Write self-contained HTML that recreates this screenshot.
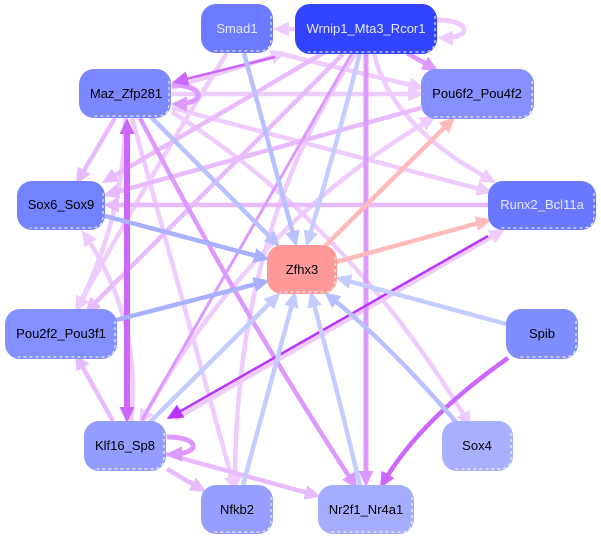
<!DOCTYPE html>
<html><head><meta charset="utf-8"><style>
html,body{margin:0;padding:0;background:#fff;width:601px;height:539px;overflow:hidden}
svg{display:block}
text{font-family:"Liberation Sans",sans-serif;font-size:13px;text-anchor:middle}
path{fill:none}
.b{stroke:#fff;stroke-width:1;stroke-dasharray:3 3;fill:none}
</style></head><body>
<svg width="601" height="539" viewBox="0 0 601 539" xmlns="http://www.w3.org/2000/svg">
<defs>
<marker id="a" markerUnits="userSpaceOnUse" markerWidth="18" markerHeight="17" refX="10" refY="8" orient="auto-start-reverse"><polygon points="0,0.5 16,8 0,15.5" fill="#eeccff"/></marker>
<marker id="b" markerUnits="userSpaceOnUse" markerWidth="18" markerHeight="17" refX="10" refY="8" orient="auto-start-reverse"><polygon points="0,0.5 16,8 0,15.5" fill="#e8bbff"/></marker>
<marker id="c" markerUnits="userSpaceOnUse" markerWidth="18" markerHeight="17" refX="10" refY="8" orient="auto-start-reverse"><polygon points="0,0.5 16,8 0,15.5" fill="#dd99ff"/></marker>
<marker id="d" markerUnits="userSpaceOnUse" markerWidth="18" markerHeight="17" refX="10" refY="8" orient="auto-start-reverse"><polygon points="0,0.5 16,8 0,15.5" fill="#cc66ff"/></marker>
<marker id="e" markerUnits="userSpaceOnUse" markerWidth="18" markerHeight="17" refX="10" refY="8" orient="auto-start-reverse"><polygon points="0,0.5 16,8 0,15.5" fill="#bb33ff"/></marker>
<marker id="f" markerUnits="userSpaceOnUse" markerWidth="18" markerHeight="17" refX="10" refY="8" orient="auto-start-reverse"><polygon points="0,0.5 16,8 0,15.5" fill="#c5ccff"/></marker>
<marker id="g" markerUnits="userSpaceOnUse" markerWidth="18" markerHeight="17" refX="10" refY="8" orient="auto-start-reverse"><polygon points="0,0.5 16,8 0,15.5" fill="#b8c0ff"/></marker>
<marker id="h" markerUnits="userSpaceOnUse" markerWidth="18" markerHeight="17" refX="10" refY="8" orient="auto-start-reverse"><polygon points="0,0.5 16,8 0,15.5" fill="#a8b0ff"/></marker>
<marker id="i" markerUnits="userSpaceOnUse" markerWidth="18" markerHeight="17" refX="10" refY="8" orient="auto-start-reverse"><polygon points="0,0.5 16,8 0,15.5" fill="#ffbbbb"/></marker>
</defs>

<g stroke="#eeccff" stroke-width="4.5">
<path d="M295 29H279" marker-end="url(#a)"/>
<path d="M437 20C472 20 472 38 443 38" stroke-width="5" marker-end="url(#a)"/>
<path d="M172 88L281 54" marker-end="url(#a)"/>
<path d="M281 54L419 87" marker-end="url(#a)"/>
<path d="M172 94H418" marker-end="url(#a)"/>
<path d="M374 53Q390 125 491 180" marker-end="url(#a)"/>
<path d="M172 108L487 191" marker-end="url(#a)"/>
<path d="M172 112Q350 225 468 422" marker-end="url(#a)"/>
<path d="M132 118L234 486" marker-end="url(#a)"/>
<path d="M227 53Q150 175 78 307" marker-end="url(#a)"/>
<path d="M85 235C115 280 140 340 131 421" marker-start="url(#a)"/>
<path d="M125 118Q125 215 78 307"/>
<path d="M356 53Q235 230 235 485" marker-end="url(#a)"/>
<path d="M431 119Q250 225 142 420" marker-start="url(#a)" marker-end="url(#a)"/>
<path d="M175 419L500 232" marker-end="url(#a)"/>
</g>

<g stroke="#e8bbff" stroke-width="4.5">
<path d="M115 118L79 179" marker-end="url(#b)"/>
<path d="M421 108L109 194" marker-end="url(#b)"/>
<path d="M488 205H109" marker-end="url(#b)"/>
<path d="M325 52L107 180" marker-end="url(#b)"/>
<path d="M343 54L89 309" marker-end="url(#b)"/>
<path d="M113 421L78 359" marker-end="url(#b)"/>
<path d="M167 469L201 489" marker-end="url(#b)"/>
<path d="M166 454L315 495" marker-end="url(#b)"/>
</g>

<g stroke="#dd99ff" stroke-width="4.5">
<path d="M172 85C206 85 206 104 177 104" stroke-width="5" marker-end="url(#c)"/>
<path d="M167 437C201 437 201 454 172 454" stroke-width="5" marker-end="url(#c)"/>
<path d="M140 118Q240 310 354 484" marker-end="url(#c)"/>
<path d="M352 53L142 420" stroke-width="3"/>
<path d="M366 53V481" stroke-width="5" marker-end="url(#c)"/>
<path d="M407 53L433 68" marker-end="url(#c)"/>
</g>

<g stroke="#cc66ff">
<path d="M127 417V124" stroke-width="6" marker-start="url(#d)" marker-end="url(#d)"/>
<path d="M275 57L178 81" stroke-width="2.5" marker-end="url(#d)"/>
<path d="M508 358Q420 420 383 483" stroke-width="4.5" marker-end="url(#d)"/>
</g>
<path d="M488 236L172 416" stroke="#bb33ff" stroke-width="2.5" marker-end="url(#e)"/>

<g stroke="#c5ccff" stroke-width="4.5">
<path d="M360 53Q335 150 308 241" marker-end="url(#f)"/>
<path d="M150 422L276 297" marker-end="url(#f)"/>
<path d="M243 485L294 297" marker-end="url(#f)"/>
<path d="M360 486Q340 400 312 297" marker-end="url(#f)"/>
<path d="M506 324L341 279" marker-end="url(#f)"/>
</g>
<g stroke="#b8c0ff" stroke-width="4.5">
<path d="M244 53Q265 130 295 241" marker-end="url(#g)"/>
<path d="M150 116L276 243" marker-end="url(#g)"/>
<path d="M456 422Q385 340 329 296" marker-end="url(#g)"/>
</g>
<g stroke="#a8b0ff" stroke-width="4.5">
<path d="M105 216L264 258" marker-end="url(#h)"/>
<path d="M116 320L264 282" marker-end="url(#h)"/>
</g>
<g stroke="#ffbbbb" stroke-width="4.5">
<path d="M325 246L451 121" marker-end="url(#i)"/>
<path d="M336 262L486 221" marker-end="url(#i)"/>
</g>

<g>
<rect x="201" y="4" width="72" height="49" rx="15" fill="#6c7bff"/>
<rect x="295" y="4" width="142" height="50" rx="15" fill="#3344ff"/>
<rect x="79" y="69" width="92" height="49" rx="15" fill="#7c88ff"/>
<rect x="421" y="69" width="113" height="50" rx="15" fill="#8690ff"/>
<rect x="17" y="181" width="88" height="49" rx="15" fill="#7382ff"/>
<rect x="488" y="181" width="108" height="49" rx="15" fill="#6a77ff"/>
<rect x="267" y="245" width="70" height="49" rx="15" fill="#ff9999"/>
<rect x="5" y="309" width="112" height="50" rx="15" fill="#8390ff"/>
<rect x="506" y="309" width="72" height="50" rx="15" fill="#808dff"/>
<rect x="84" y="421" width="82" height="50" rx="15" fill="#929dff"/>
<rect x="442" y="421" width="71" height="50" rx="15" fill="#a8b0ff"/>
<rect x="201" y="485" width="72" height="49" rx="15" fill="#969fff"/>
<rect x="318" y="485" width="96" height="49" rx="15" fill="#a5adff"/>
</g>
<g>
<path class="b" d="M271 16V39Q271 51 259 51H214"/>
<path class="b" d="M435 16V40Q435 52 423 52H308"/>
<path class="b" d="M169 81V104Q169 116 157 116H92"/>
<path class="b" d="M532 81V105Q532 117 520 117H434"/>
<path class="b" d="M103 193V216Q103 228 91 228H30"/>
<path class="b" d="M594 193V216Q594 228 582 228H501"/>
<path class="b" d="M335 257V280Q335 292 323 292H280"/>
<path class="b" d="M115 321V345Q115 357 103 357H18"/>
<path class="b" d="M576 321V345Q576 357 564 357H519"/>
<path class="b" d="M164 433V457Q164 469 152 469H97"/>
<path class="b" d="M511 433V457Q511 469 499 469H455"/>
<path class="b" d="M271 497V520Q271 532 259 532H214"/>
<path class="b" d="M412 497V520Q412 532 400 532H331"/>
</g>

<text x="237" y="33" fill="#e4e8ff">Smad1</text>
<text x="366" y="33" fill="#e4e8ff">Wrnip1_Mta3_Rcor1</text>
<text x="126" y="98" fill="#000">Maz_Zfp281</text>
<text x="477" y="98" fill="#000">Pou6f2_Pou4f2</text>
<text x="61" y="209" fill="#000">Sox6_Sox9</text>
<text x="542" y="209" fill="#e4e8ff">Runx2_Bcl11a</text>
<text x="302" y="274" fill="#000">Zfhx3</text>
<text x="61" y="338" fill="#000">Pou2f2_Pou3f1</text>
<text x="542" y="338" fill="#000">Spib</text>
<text x="125" y="450" fill="#000">Klf16_Sp8</text>
<text x="477" y="450" fill="#000">Sox4</text>
<text x="237" y="514" fill="#000">Nfkb2</text>
<text x="366" y="514" fill="#000">Nr2f1_Nr4a1</text>
</svg>
</body></html>
